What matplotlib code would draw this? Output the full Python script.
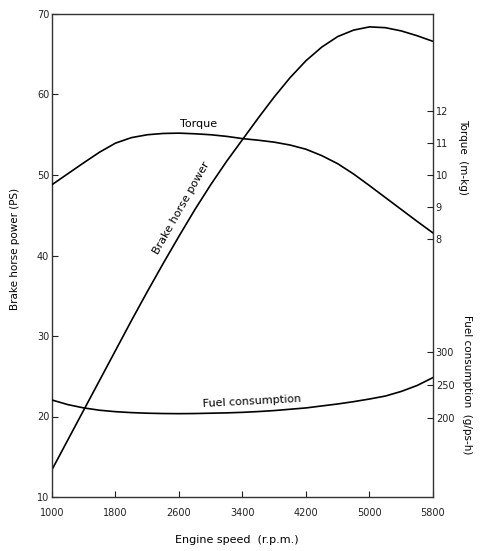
import matplotlib
matplotlib.use("Agg")
import matplotlib.pyplot as plt

rpm = [1000, 1200, 1400, 1600, 1800, 2000, 2200, 2400, 2600, 2800, 3000, 3200, 3400,
       3600, 3800, 4000, 4200, 4400, 4600, 4800, 5000, 5200, 5400, 5600, 5800]
bhp = [13.4, 17.1, 20.8, 24.5, 28.2, 31.9, 35.5, 39.0, 42.4, 45.7, 48.8, 51.7, 54.4,
       57.1, 59.7, 62.1, 64.2, 65.9, 67.2, 68.0, 68.4, 68.3, 67.9, 67.3, 66.6]
torque = [9.7, 10.04, 10.38, 10.71, 10.99, 11.16, 11.25, 11.29, 11.3, 11.28, 11.25, 11.2, 11.13,
          11.08, 11.02, 10.93, 10.8, 10.6, 10.35, 10.03, 9.67, 9.3, 8.93, 8.56, 8.2]
fuel = [227, 220, 215, 211.5, 209.3, 207.9, 207, 206.5, 206.3, 206.5, 207, 207.5, 208.3,
        209.5, 211, 213, 215, 218, 221, 224.5, 228.5, 233, 240, 249, 261]

x_ticks = [1000, 1800, 2600, 3400, 4200, 5000, 5800]
hp_ticks = [10, 20, 30, 40, 50, 60, 70]
torque_ticks = [8, 9, 10, 11, 12]
fuel_ticks = [200, 250, 300]

plt.rcParams['font.family'] = ['DejaVu Sans']
W, H = 482, 551
fig = plt.figure(figsize=(W / 100, H / 100), dpi=100)
L, R, T, B = 52, 433, 14, 497
ax = fig.add_axes([L / W, 1 - B / H, (R - L) / W, (B - T) / H])

lw = 1.2
ax.plot(rpm, bhp, color='black', lw=lw, solid_joinstyle='round')
ax.set_xlim(1000, 5800)
ax.set_ylim(10, 70)
ax.set_xticks(x_ticks)
ax.set_yticks(hp_ticks)
ax.tick_params(direction='in', length=4, labelsize=7, width=0.8, colors='#222222')
ax.tick_params(axis='x', pad=8)
ax.tick_params(axis='y', pad=2)
for s in ax.spines.values():
    s.set_linewidth(1.0)
    s.set_color('#333333')

ax_t = ax.twinx()
ax_t.plot(rpm, torque, color='black', lw=lw, solid_joinstyle='round')
ax_t.set_ylim(0, 15)
ax_t.set_yticks(torque_ticks)
ax_t.tick_params(direction='in', length=4, labelsize=7, width=0.8, pad=2, colors='#222222')
for s in ax_t.spines.values():
    s.set_visible(False)

ax_f = ax.twinx()
ax_f.plot(rpm, fuel, color='black', lw=lw, solid_joinstyle='round')
ax_f.set_ylim(80, 812)
ax_f.set_yticks(fuel_ticks)
ax_f.tick_params(direction='in', length=4, labelsize=7, width=0.8, pad=2, colors='#222222')
for s in ax_f.spines.values():
    s.set_visible(False)

def ff(px, py):
    return px / W, 1 - py / H

fig.text(*ff(199, 124), 'Torque', fontsize=8, ha='center', va='center')
fig.text(*ff(252, 401), 'Fuel consumption', fontsize=8, ha='center', va='center', rotation=3)
fig.text(*ff(181, 208), 'Brake horse power', fontsize=8, ha='center', va='center', rotation=60.5)

fig.text(*ff(15, 249), 'Brake horse power (PS)', fontsize=7.5, ha='center', va='center', rotation=90)
fig.text(*ff(463, 157), 'Torque  (m-kg)', fontsize=7.5, ha='center', va='center', rotation=-90)
fig.text(*ff(467, 385), 'Fuel consumption  (g/ps-h)', fontsize=7.5, ha='center', va='center', rotation=-90)
fig.text(*ff(237, 540), 'Engine speed  (r.p.m.)', fontsize=8, ha='center', va='center')

fig.savefig('out.png', dpi=100, facecolor='white')
